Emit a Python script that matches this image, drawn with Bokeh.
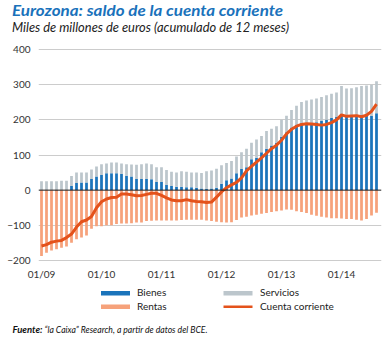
from bokeh.plotting import figure
from bokeh.models import Range1d, FixedTicker, Span, Div
from bokeh.layouts import column
from bokeh.embed import file_html
from bokeh.resources import INLINE

# ---- data (billions of euros, 12-month cumulative), Jan 2009 .. Aug 2014 ----
months = list(range(68))
tick_pos = [0, 12, 24, 36, 48, 60]
tick_labels = ["01/09", "01/10", "01/11", "01/12", "01/13", "01/14"]
y_ticks = [-200, -100, 0, 100, 200, 300, 400]

bienes = [0, 0, 0, -3, 0, 0, 12, 20, 22, 22, 32, 39, 43, 48, 48, 48, 46, 41, 39, 32,
          32, 32, 31, 23, 23, 15, 12, 10, 10, 8, 8, 7, 5, 3, 5, 7, 18, 28, 33, 48,
          60, 65, 88, 92, 108, 118, 127, 135, 152, 165, 178, 186, 190, 192, 192, 193, 197, 200, 205, 208,
          211, 213, 213, 212, 213, 212, 211, 219]

servicios = [25, 25, 25, 25, 27, 27, 28, 30, 28, 28, 27, 28, 31, 28, 31, 31, 30, 33, 34, 40,
             42, 44, 43, 42, 42, 42, 40, 40, 44, 44, 42, 43, 44, 51, 51, 54, 53, 49, 50, 48,
             48, 53, 47, 52, 46, 50, 48, 47, 48, 47, 50, 54, 61, 63, 66, 68, 68, 70, 69, 70,
             85, 76, 77, 81, 83, 86, 89, 91]

rentas = [-187, -178, -172, -168, -164, -160, -150, -140, -135, -129, -110, -103, -103, -100, -100, -96, -95, -95, -94, -92,
          -92, -88, -87, -86, -86, -86, -86, -86, -85, -84, -84, -84, -84, -86, -88, -90, -91, -92, -91, -85,
          -78, -76, -72, -70, -67, -65, -62, -60, -58, -55, -56, -60, -62, -65, -70, -73, -76, -78, -80, -80,
          -81, -82, -82, -84, -86, -82, -72, -64]

cuenta = [-159, -155, -148, -145, -143, -135, -125, -105, -90, -85, -75, -50, -33, -25, -21, -20, -11, -11, -13, -16,
          -15, -12, -9, -9, -15, -22, -28, -30, -30, -27, -30, -32, -33, -35, -34, -20, -5, 7, 15, 22,
          35, 55, 68, 80, 92, 105, 118, 128, 142, 160, 173, 182, 187, 189, 188, 187, 185, 187, 192, 200,
          214, 210, 211, 212, 209, 213, 224, 245]

legend_labels = ["Bienes", "Servicios", "Rentas", "Cuenta corriente"]
title_text = "Eurozona: saldo de la cuenta corriente"
subtitle_text = "Miles de millones de euros (acumulado de 12 meses)"
source_bold = "Fuente:"
source_text = "\u201cla Caixa\u201d Research, a partir de datos del BCE."

# stacking helpers built from the lists above
serv_bottom = [max(b, 0) for b in bienes]
serv_top = [sb + s for sb, s in zip(serv_bottom, servicios)]

FONT = "Lato"
BLUE = "#1b74bb"
GREY = "#bcc6cc"
SALMON = "#f6a27b"
ORANGE = "#e4521b"
TITLE_BLUE = "#1a72bb"
W = 389


def st(family, size, weight="normal", style="normal", color="#222222"):
    return (f'style="font-family:\'{family}\';font-size:{size}px;font-weight:{weight};'
            f'font-style:{style};fill:{color}"')


# ---------------- header (inline SVG text) ----------------
head_html = (
    f'<svg xmlns="http://www.w3.org/2000/svg" width="{W}" height="40" style="display:block">'
    f'<text x="12" y="16" {st(FONT, 15, "bold", "italic", TITLE_BLUE)} '
    f'textLength="271" lengthAdjust="spacingAndGlyphs">{title_text}</text>'
    f'<text x="12" y="32" {st(FONT, 12.6, "normal", "italic", "#222222")} '
    f'textLength="277" lengthAdjust="spacingAndGlyphs">{subtitle_text}</text>'
    '</svg>'
)
head = Div(text=head_html, width=W, height=40, margin=(0, 0, 0, 0))

# ---------------- main chart ----------------
p = figure(width=W, height=242, output_backend="svg", toolbar_location=None,
           x_range=Range1d(-0.6, 68.0), y_range=Range1d(-203, 403),
           min_border_left=38, min_border_right=8, min_border_top=8, min_border_bottom=20)
p.outline_line_color = None
p.background_fill_color = "white"
p.border_fill_color = "white"

p.yaxis.ticker = FixedTicker(ticks=y_ticks)
p.yaxis.axis_line_color = None
p.yaxis.major_tick_line_color = None
p.yaxis.minor_tick_line_color = None
p.yaxis.major_tick_out = 0
p.yaxis.major_tick_in = 0
p.yaxis.major_label_text_font = FONT
p.yaxis.major_label_text_font_size = "10px"
p.yaxis.major_label_text_color = "#333333"
p.yaxis.major_label_standoff = 8

p.xaxis.ticker = FixedTicker(ticks=tick_pos)
p.xaxis.major_label_overrides = {t: l for t, l in zip(tick_pos, tick_labels)}
p.xaxis.axis_line_color = None
p.xaxis.major_tick_line_color = None
p.xaxis.minor_tick_line_color = None
p.xaxis.major_tick_out = 0
p.xaxis.major_tick_in = 0
p.xaxis.major_label_text_font = FONT
p.xaxis.major_label_text_font_size = "10px"
p.xaxis.major_label_text_color = "#333333"
p.xaxis.major_label_standoff = 6

p.xgrid.grid_line_color = None
p.ygrid.ticker = FixedTicker(ticks=[t for t in y_ticks if t != 0])
p.ygrid.grid_line_color = "#cccccc"
p.ygrid.grid_line_width = 1

BW = 0.55
p.vbar(x=months, bottom=0, top=bienes, width=BW, fill_color=BLUE, line_color=None)
p.vbar(x=months, bottom=serv_bottom, top=serv_top, width=BW, fill_color=GREY, line_color=None)
p.vbar(x=months, bottom=rentas, top=0, width=BW, fill_color=SALMON, line_color=None)
p.add_layout(Span(location=0, dimension="width", line_color="#1a1a1a", line_width=1))
p.line(months, cuenta, line_color=ORANGE, line_width=3)

# ---------------- footer: legend + source (inline SVG) ----------------
lab = st(FONT, 10, "normal", "normal", "#222222")
foot_html = (
    f'<svg xmlns="http://www.w3.org/2000/svg" width="{W}" height="56" style="display:block">'
    f'<rect x="101" y="9" width="29" height="4.5" fill="{BLUE}"/>'
    f'<rect x="223.5" y="9" width="29" height="4.5" fill="{GREY}"/>'
    f'<rect x="101" y="22.5" width="29" height="4.5" fill="{SALMON}"/>'
    f'<rect x="223.5" y="23.5" width="29" height="2.5" fill="{ORANGE}"/>'
    f'<text x="137" y="13.5" {lab}>{legend_labels[0]}</text>'
    f'<text x="260" y="13.5" {lab}>{legend_labels[1]}</text>'
    f'<text x="137" y="27.5" {lab}>{legend_labels[2]}</text>'
    f'<text x="260" y="27.5" {lab}>{legend_labels[3]}</text>'
    f'<text x="12.5" y="51" {st(FONT, 9.5, "bold", "italic", "#111111")} '
    f'textLength="30" lengthAdjust="spacingAndGlyphs">{source_bold}</text>'
    f'<text x="44.5" y="51" {st(FONT, 8.8, "normal", "italic", "#111111")} '
    f'textLength="163" lengthAdjust="spacingAndGlyphs">{source_text}</text>'
    '</svg>'
)
foot = Div(text=foot_html, width=W, height=56, margin=(0, 0, 0, 0))

layout = column(head, p, foot, spacing=0)
open("out.html", "w").write(file_html(layout, INLINE))
